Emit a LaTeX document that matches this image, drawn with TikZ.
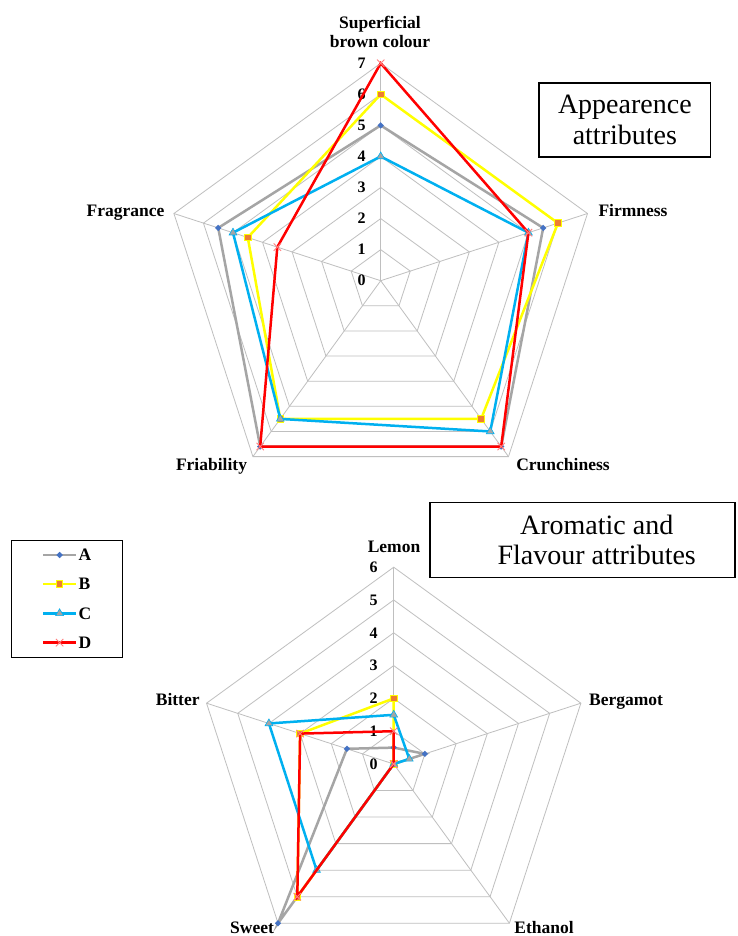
\documentclass[tikz,border=0pt]{standalone}
\usepackage{fontspec}
\setmainfont{Liberation Serif}
\usetikzlibrary{shapes.geometric,shapes.misc}
\definecolor{gridgray}{HTML}{BFBFBF}
\definecolor{lineA}{HTML}{A5A5A5}
\definecolor{markA}{HTML}{4472C4}
\definecolor{lineB}{HTML}{FFFF00}
\definecolor{markB}{HTML}{ED7D31}
\definecolor{lineC}{HTML}{00B0F0}
\definecolor{lineD}{HTML}{FF0000}
\definecolor{markD}{HTML}{FF7F7F}
\tikzset{
  gridline/.style={draw=gridgray, line width=0.8pt},
  serA/.style={draw=lineA, line width=2.5pt},
  serB/.style={draw=lineB, line width=2.5pt},
  serC/.style={draw=lineC, line width=2.5pt},
  serD/.style={draw=lineD, line width=2.5pt},
  mkA/.style={diamond, fill=markA, inner sep=0pt, minimum size=6.5pt},
  mkB/.style={rectangle, fill=markB, draw=lineB, line width=0.8pt, inner sep=0pt, minimum size=6.5pt},
  mkC/.style={regular polygon, regular polygon sides=3, fill=lineA, draw=lineC, line width=0.6pt, inner sep=0pt, minimum size=9pt},
  mkD/.style={cross out, draw=markD, line width=0.9pt, inner sep=0pt, minimum size=6.5pt},
  axlabel/.style={font=\bfseries\fontsize{17.5}{19}\selectfont, inner sep=0pt, align=center, anchor=base},
  ticklabel/.style={font=\bfseries\fontsize{16}{18}\selectfont, inner sep=0pt},
  titlebox/.style={draw=black, line width=1.2pt, inner sep=0pt},
  titletext/.style={font=\fontsize{28}{30.7}\selectfont, align=center, inner sep=0pt},
  legtext/.style={font=\bfseries\fontsize{17.5}{19}\selectfont, inner sep=0pt, anchor=west},
}
\newcommand{\radargrid}[2]{% #1 rings, #2 tick x offset
  \foreach \k in {1,...,#1}
    \draw[gridline] (90:{\k*\unitr}) -- (18:{\k*\unitr}) -- (-54:{\k*\unitr}) -- (-126:{\k*\unitr}) -- (162:{\k*\unitr}) -- cycle;
  \foreach \a in {90,18,-54,-126,162}
    \draw[gridline] (0,0) -- (\a:{#1*\unitr});
  \foreach \k in {0,...,#1}
    \node[ticklabel] at (#2,{\k*\unitr}) {\k};
}
\newcommand{\radarseries}[8]{% #1 name, #2 line style, #3 marker style, #4-#8 values
  \draw[#2] (90:{#4*\unitr}) -- (18:{#5*\unitr}) -- (-54:{#6*\unitr}) -- (-126:{#7*\unitr}) -- (162:{#8*\unitr}) -- cycle;
  \foreach \v/\a [count=\i] in {#4/90,#5/18,#6/-54,#7/-126,#8/162}
    \node[#3] (#1\i) at (\a:{\v*\unitr}) {};
}
\begin{document}
\begin{tikzpicture}[x=1pt,y=1pt]
\useasboundingbox (0,-936) rectangle (737,0);
\fill[white] (0,-936) rectangle (737,0);

% ---------- top chart ----------
\begin{scope}[shift={(380.7,-280.7)}]
  \def\unitr{31.06}
  \radargrid{7}{-19}
  \radarseries{tA}{serA}{mkA}{5}{5.5}{6.6}{6.6}{5.5}
  \radarseries{tB}{serB}{mkB}{6}{6}{5.5}{5.5}{4.5}
  \radarseries{tC}{serC}{mkC}{4}{5}{6}{5.5}{5}
  \radarseries{tD}{serD}{mkD}{7}{5}{6.6}{6.6}{3.5}
\end{scope}
\node[axlabel] (lsbc) at (380,-47.3) {Superficial\\brown colour};
\node[axlabel] (lfirm) at (633,-216) {Firmness};
\node[axlabel] (lfrag) at (125.5,-216) {Fragrance};
\node[axlabel] (lcrun) at (563,-470) {Crunchiness};
\node[axlabel] (lfria) at (211.5,-470) {Friability};

\node[titlebox, minimum width=171.7pt, minimum height=74pt] (box1) at (624.85,-120) {};
\node[titletext] (title1) at (624.85,-120) {Appearence\\attributes};

% ---------- bottom chart ----------
\begin{scope}[shift={(393.7,-764)}]
  \def\unitr{32.8}
  \radargrid{6}{-20}
  \radarseries{bA}{serA}{mkA}{0.5}{1}{0}{6}{1.5}
  \radarseries{bB}{serB}{mkB}{2}{0}{0}{5}{3}
  \radarseries{bC}{serC}{mkC}{1.5}{0.5}{0}{4}{4}
  \radarseries{bD}{serD}{mkD}{1}{0}{0}{5}{3}
\end{scope}
\node[axlabel] (llem) at (394,-552.7) {Lemon};
\node[axlabel] (lberg) at (626,-705) {Bergamot};
\node[axlabel] (leth) at (544,-933) {Ethanol};
\node[axlabel] (lswe) at (252,-933) {Sweet};
\node[axlabel] (lbit) at (177.7,-705) {Bitter};

\node[titlebox, minimum width=305pt, minimum height=75pt] (box2) at (582.5,-539.8) {};
\node[titletext] (title2) at (596.7,-539.8) {Aromatic and\\Flavour attributes};

% ---------- legend ----------
\node[titlebox, minimum width=111pt, minimum height=117pt] (legbox) at (67.2,-599.2) {};
\foreach \n/\s/\m/\y in {A/serA/mkA/555, B/serB/mkB/584, C/serC/mkC/613.3, D/serD/mkD/642.7}{
  \coordinate (leg\n l) at (43.3,-\y);
  \coordinate (leg\n r) at (76,-\y);
  \draw[\s] (leg\n l) -- (leg\n r);
  \node[\m] (legm\n) at (59.6,-\y) {};
  \node[legtext] (legt\n) at (78.3,-\y) {\n};
}
\end{tikzpicture}
\end{document}
